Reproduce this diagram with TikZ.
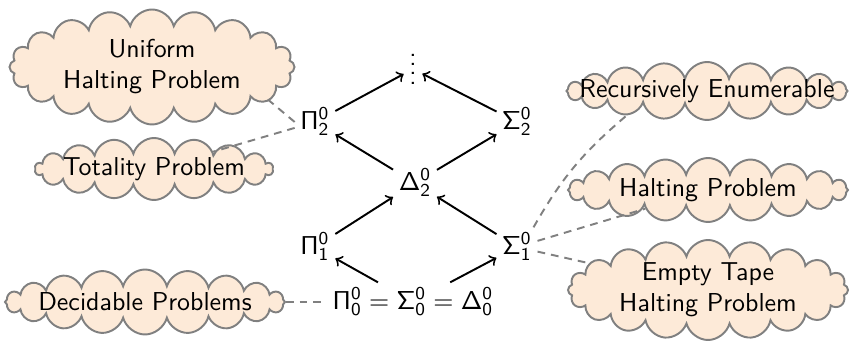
\documentclass[tikz,border=0pt]{standalone}
\usetikzlibrary{shapes.symbols}
\renewcommand\familydefault{\sfdefault}
\definecolor{cloudfill}{RGB}{253,234,216}
\definecolor{cloudline}{RGB}{128,128,128}
\def\pu{0.386pt}
\begin{document}
\begin{tikzpicture}[x=\pu,y=-\pu,
  cl/.style={cloud, cloud puffs=20, cloud ignores aspect, draw=cloudline, fill=cloudfill,
    line width=0.75pt, inner sep=0pt, label={[align=center, inner sep=0pt]center:#1}},
  arr/.style={->, line width=0.75pt},
  lnk/.style={dash pattern=on 3pt off 2.3pt, cloudline, line width=0.75pt},
  lvl/.style={inner sep=2pt}]
\useasboundingbox (0,0) rectangle (852,352);
% hierarchy
\node[lvl] (dots) at (413,69) {\vbox{\baselineskip=3.6pt\lineskiplimit=-5pt\hbox{.}\hbox{.}\hbox{.}\hbox{.}}};
\node[lvl] (p2) at (315,122) {$\mathsf{\Pi^0_2}$};
\node[lvl] (s2) at (517,122) {$\mathsf{\Sigma^0_2}$};
\node[lvl] (d2) at (415,183) {$\mathsf{\Delta^0_2}$};
\node[lvl] (p1) at (315,247) {$\mathsf{\Pi^0_1}$};
\node[lvl] (s1) at (517,247) {$\mathsf{\Sigma^0_1}$};
\node[lvl] (bot) at (413,302) {$\mathsf{\Pi^0_0 = \Sigma^0_0 = \Delta^0_0}$};
% clouds
\node[cl={Uniform\\Halting Problem}, minimum width=285*\pu, minimum height=115*\pu] (uhp) at (152,67) {};
\node[cl={Totality Problem}, cloud puffs=18, minimum width=238*\pu, minimum height=62*\pu] (tot) at (154,169) {};
\node[cl={Decidable Problems}, minimum width=280*\pu, minimum height=65*\pu] (dec) at (145,302) {};
\node[cl={Recursively Enumerable}, minimum width=281*\pu, minimum height=58*\pu] (re) at (707,91) {};
\node[cl={Halting Problem}, minimum width=280*\pu, minimum height=64*\pu] (hp) at (708,190) {};
\node[cl={Empty Tape\\Halting Problem}, minimum width=280*\pu, minimum height=100*\pu] (ethp) at (708,290) {};
% arrows
\draw[arr] (bot) -- (p1);
\draw[arr] (bot) -- (s1);
\draw[arr] (p1) -- (d2);
\draw[arr] (s1) -- (d2);
\draw[arr] (d2) -- (p2);
\draw[arr] (d2) -- (s2);
\draw[arr] (p2) -- (dots);
\draw[arr] (s2) -- (dots);
% links
\draw[lnk] (p2.west) -- ([shift={(20,-6)}]uhp.-22);
\draw[lnk] (p2) -- (tot);
\draw[lnk] (dec) -- (bot);
\draw[lnk] (s1.50) to[bend left=10] ([shift={(-27,0)}]re.205);
\draw[lnk] (s1) -- (hp);
\draw[lnk] (s1) -- (ethp);
\end{tikzpicture}
\end{document}
